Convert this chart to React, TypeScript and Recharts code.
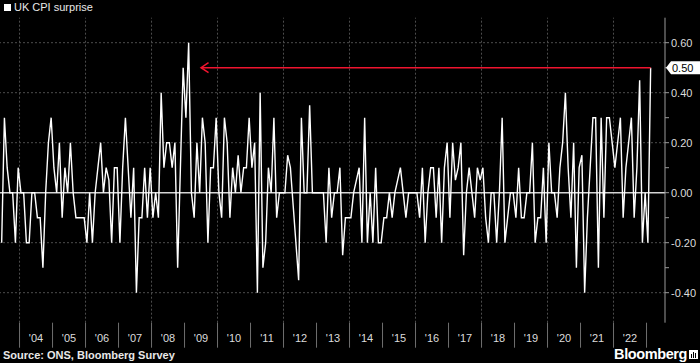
import { LineChart, Line, XAxis, YAxis, ReferenceLine, ReferenceDot } from "recharts";

// monthly surprise (actual minus consensus), Jun 2003 .. Feb 2023
const START_YEAR = 2003;
const START_MONTH = 6;
const SURPRISE = [
  -0.2, 0.3, 0.1, 0.0, 0.0, -0.2, 0.1,
  0.0, 0.0, -0.2, -0.2, 0.0, 0.0, -0.1, -0.1, -0.3, 0.0, 0.2, 0.3,
  0.1, 0.0, 0.2, -0.1, 0.1, 0.0, 0.2, 0.0, -0.1, -0.1, -0.1, -0.1,
  -0.2, 0.0, -0.2, 0.0, 0.1, 0.2, 0.0, 0.1, 0.05, -0.2, 0.1, 0.1,
  -0.2, 0.1, 0.3, 0.1, -0.1, 0.1, -0.4, -0.1, -0.1, 0.1, -0.1, 0.1,
  -0.1, 0.0, -0.1, 0.4, 0.1, 0.2, 0.2, 0.1, 0.2, -0.3, 0.1, 0.5,
  0.3, 0.6, 0.0, -0.1, 0.2, 0.0, 0.3, 0.2, -0.2, 0.1, 0.1, 0.3,
  0.0, -0.1, 0.3, 0.2, -0.1, 0.1, 0.0, 0.15, 0.0, 0.1, 0.1, 0.3,
  0.1, 0.2, -0.4, 0.4, -0.3, -0.2, 0.1, 0.0, 0.3, -0.1, 0.0, 0.0,
  0.0, 0.15, 0.1, -0.05, -0.2, -0.35, 0.3, 0.0, 0.0, 0.35, 0.0, 0.0,
  0.0, 0.0, 0.0, -0.2, 0.1, -0.1, 0.0, 0.0, 0.1, -0.25, -0.1, -0.1,
  -0.1, 0.0, 0.05, 0.1, -0.2, 0.3, -0.2, 0.0, -0.2, 0.1, -0.2, -0.2,
  -0.1, -0.1, 0.0, -0.1, 0.0, 0.05, 0.1, 0.0, -0.1, 0.0, 0.0, 0.0,
  0.0, -0.1, 0.1, -0.2, 0.0, 0.1, 0.1, -0.1, 0.1, -0.2, 0.1, 0.2,
  -0.1, 0.2, 0.05, 0.1, 0.2, -0.25, 0.0, 0.1, 0.0, -0.1, 0.1, 0.05,
  0.1, -0.1, -0.2, 0.0, 0.0, -0.2, 0.0, 0.3, -0.2, -0.1, 0.0, 0.0,
  -0.1, 0.1, -0.1, -0.1, 0.0, 0.0, 0.2, -0.2, -0.1, -0.1, 0.1, -0.2,
  0.2, 0.0, 0.0, -0.1, 0.1, 0.2, 0.4, 0.1, -0.1, 0.2, -0.3, 0.1,
  0.15, -0.4, -0.1, 0.1, 0.3, 0.3, -0.3, 0.3, -0.1, 0.3, 0.3, 0.2,
  0.1, 0.2, 0.3, -0.1, 0.1, 0.2, 0.3, -0.1, 0.1, 0.45, -0.2, 0.0,
  -0.2, 0.5,
];

const YEARS = [
  2004, 2005, 2006, 2007, 2008, 2009, 2010, 2011, 2012, 2013,
  2014, 2015, 2016, 2017, 2018, 2019, 2020, 2021, 2022,
];
const Y_TICKS = [-0.4, -0.3, -0.2, -0.1, 0, 0.1, 0.2, 0.3, 0.4, 0.5, 0.6];
const Y_LABELS = [-0.4, -0.2, 0, 0.2, 0.4, 0.6];
const GRID_Y = [-0.4, -0.2, 0.2, 0.4, 0.6];
const ARROW_TO = 2009.5;

const data = SURPRISE.map((v, i) => ({
  t: START_YEAR + (START_MONTH - 1 + i) / 12 + 1 / 24,
  v,
}));
const last = data[data.length - 1];

const SEPARATORS = [...YEARS, YEARS[YEARS.length - 1] + 1];
const LABEL_POS = YEARS.map((y) => y + 0.5);
const GRID_X = SEPARATORS.filter((y) => y % 2 === 0);

const FONT = "'Liberation Sans', Arial, sans-serif";

function YearTick({ x, y, payload }: any) {
  const v = payload.value as number;
  if (Number.isInteger(v)) {
    return <line x1={x} x2={x} y1={y} y2={y + 25} stroke="#6e6e6e" strokeWidth={1} />;
  }
  return (
    <text x={x} y={y + 19} fill="#dcdcdc" fontSize={11} fontFamily={FONT} textAnchor="middle">
      {"'" + String(Math.floor(v)).slice(2)}
    </text>
  );
}

function ValueTick({ x, y, payload }: any) {
  const v = payload.value as number;
  if (!Y_LABELS.some((l) => Math.abs(l - v) < 1e-9)) return null;
  return (
    <text x={x} y={y + 4} fill="#dcdcdc" fontSize={11} fontFamily={FONT} textAnchor="start">
      {v.toFixed(2)}
    </text>
  );
}

function ArrowHead({ cx, cy }: any) {
  return (
    <polyline
      points={`${cx + 7.5},${cy - 5} ${cx},${cy} ${cx + 7.5},${cy + 5}`}
      fill="none"
      stroke="#f0142f"
      strokeWidth={1.5}
    />
  );
}

function LastTag({ cy }: any) {
  const x = 665;
  return (
    <g>
      <polygon
        points={`${x + 1},${cy} ${x + 6},${cy - 6.5} ${x + 35},${cy - 6.5} ${x + 35},${cy + 6.5} ${x + 6},${cy + 6.5}`}
        fill="#ffffff"
      />
      <text x={x + 7} y={cy + 4} fill="#000" fontSize={11} fontFamily={FONT}>
        {last.v.toFixed(2)}
      </text>
    </g>
  );
}

export default function App() {
  return (
    <div style={{ position: "relative", width: 700, height: 363, background: "#000", overflow: "hidden" }}>
      <style>{"body{margin:0;background:#000}"}</style>
      <div style={{ position: "absolute", left: 4, top: 1, display: "flex", alignItems: "center", color: "#e8e8e8", fontFamily: FONT, fontSize: 11 }}>
        <span style={{ display: "inline-block", width: 7, height: 7, background: "#fff", marginRight: 3 }} />
        UK CPI surprise
      </div>
      <LineChart width={700} height={363} data={data} margin={{ top: 17.7, right: 0, bottom: 0, left: 0 }}>
        <XAxis
          dataKey="t"
          type="number"
          domain={[2003.408, 2023.56]}
          ticks={[...SEPARATORS, ...LABEL_POS]}
          interval={0}
          tick={<YearTick />}
          tickLine={false}
          tickSize={0}
          axisLine={false}
          height={40.3}
          tickMargin={0}
        />
        <YAxis
          orientation="right"
          width={35}
          domain={[-0.52, 0.7]}
          ticks={Y_TICKS}
          interval={0}
          tick={<ValueTick />}
          tickSize={4}
          tickMargin={2}
          tickLine={{ stroke: "#9a9a9a" }}
          axisLine={{ stroke: "#9a9a9a" }}
        />
        {GRID_X.map((g) => (
          <ReferenceLine key={"gx" + g} x={g} stroke="#4d4d4d" strokeDasharray="2 2" />
        ))}
        {GRID_Y.map((g) => (
          <ReferenceLine key={"gy" + g} y={g} stroke="#4d4d4d" strokeDasharray="2 2" />
        ))}
        <ReferenceLine y={0} stroke="#d4d4d4" strokeWidth={1.5} />
        <Line
          type="linear"
          dataKey="v"
          stroke="#ffffff"
          strokeWidth={1.4}
          dot={false}
          isAnimationActive={false}
        />
        <ReferenceLine
          segment={[{ x: ARROW_TO, y: last.v }, { x: last.t, y: last.v }]}
          stroke="#f0142f"
          strokeWidth={1.5}
        />
        <ReferenceDot x={ARROW_TO} y={last.v} shape={<ArrowHead />} />
        <ReferenceDot x={last.t} y={last.v} ifOverflow="visible" shape={<LastTag />} />
      </LineChart>
      <div style={{ position: "absolute", left: 3, top: 349, color: "#e8e8e8", fontFamily: FONT, fontSize: 11, fontWeight: 700 }}>
        Source: ONS, Bloomberg Survey
      </div>
      <div style={{ position: "absolute", right: 13, top: 346, color: "#fff", fontFamily: FONT, fontSize: 14.5, fontWeight: 600, letterSpacing: -0.4 }}>
        Bloomberg
      </div>
      <div style={{ position: "absolute", left: 689, top: 350, width: 9, height: 9, background: "#fff" }}>
        <div style={{ position: "absolute", left: 2, top: 4, width: 1, height: 4, background: "#000" }} />
        <div style={{ position: "absolute", left: 4, top: 2, width: 1, height: 6, background: "#000" }} />
        <div style={{ position: "absolute", left: 6, top: 3, width: 1, height: 5, background: "#000" }} />
      </div>
    </div>
  );
}
